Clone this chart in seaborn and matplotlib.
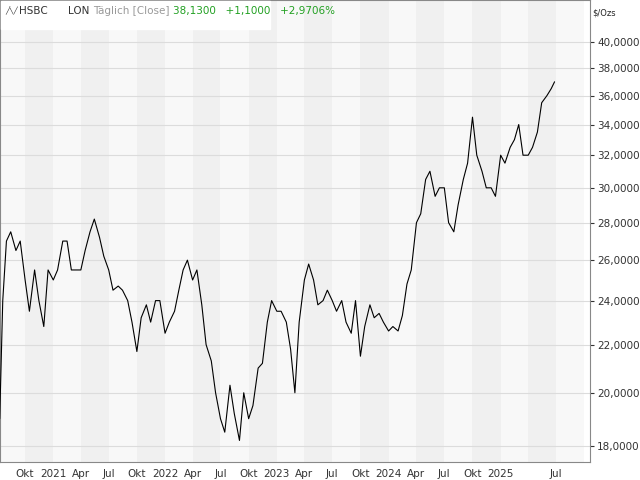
import numpy as np
import pandas as pd
import matplotlib
matplotlib.use('Agg')
import matplotlib.pyplot as plt
import matplotlib.ticker as mticker
import seaborn as sns

# semi-monthly closes (1st / 15th)
close = [27, 27.5, 26.5, 27, 25, 23.5, 25.5, 24, 22.8, 25.5,
         25, 25.5, 27, 27, 25.5, 25.5, 25.5, 26.5, 27.5, 28.2, 27.2, 26.2,
         25.5, 24.5, 24.7, 24.5, 24, 23, 21.7, 23.2, 23.8, 23, 24, 24,
         22.5, 23, 23.5, 24.5, 25.5, 26, 25, 25.5, 23.8, 22, 21.3, 20,
         19, 18.5, 20.3, 19.2, 18.2, 20, 19, 19.5, 21, 21.2, 23, 24,
         23.5, 23.5, 23, 21.8, 20, 23, 25, 25.8, 25, 23.8, 24, 24.5,
         24, 23.5, 24, 23, 22.5, 24, 21.5, 22.8, 23.8, 23.2, 23.4, 23,
         22.6, 22.8, 22.6, 23.3, 24.8, 25.5, 28, 28.5, 30.5, 31, 29.5, 30,
         30, 28, 27.5, 29, 30.5, 31.5, 34.5, 32, 31, 30, 30, 29.5,
         32, 31.5, 32.5, 33, 34, 32, 32, 32.5, 33.5, 35.5, 36, 36.5]
dates = list(pd.date_range('2020-08-01', periods=len(close), freq='SMS'))
dates = [pd.Timestamp('2020-07-10'), pd.Timestamp('2020-07-20')] + dates + [pd.Timestamp('2025-06-26')]
close = [19, 24] + close + [37]
df = pd.DataFrame({'date': dates, 'close': close})

y_ticks = list(range(18, 41, 2))
quarter_starts = pd.date_range('2020-07-01', '2025-10-01', freq='QS')

def q_label(d):
    if d.month == 1:
        return str(d.year)
    return {4: 'Apr', 7: 'Jul', 10: 'Okt'}[d.month]

sns.set_style('white')
fig = plt.figure(figsize=(6.4, 4.8), dpi=100)
ax = fig.add_axes([0, 0.0375, 0.922, 0.9625])

for i, q in enumerate(quarter_starts[:-1]):
    ax.axvspan(q, quarter_starts[i + 1], color='#f0f0f0' if i % 2 else '#f8f8f8', lw=0, zorder=0)

sns.lineplot(data=df, x='date', y='close', color='black', lw=0.8, ax=ax, zorder=3)

ax.set_yscale('log')
ax.set_ylim(17.44, 43.5)
ax.set_xlim(pd.Timestamp('2020-07-11'), pd.Timestamp('2025-10-20'))
ax.yaxis.tick_right()
ax.set_yticks(y_ticks)
ax.yaxis.set_minor_locator(mticker.NullLocator())
ax.set_yticklabels([f'{v:.4f}'.replace('.', ',') for v in y_ticks], fontsize=7.5)
ax.tick_params(axis='y', length=3, pad=2, colors='#333333')
ax.grid(axis='y', color='#dcdcdc', lw=0.8, zorder=1)
ticks = [q for q in quarter_starts if pd.Timestamp('2020-09-01') < q < pd.Timestamp('2025-09-01')]
ax.set_xticks(ticks)
ax.set_xticklabels([q_label(q) if q != pd.Timestamp('2025-04-01') else '' for q in ticks], fontsize=7.5)
ax.tick_params(axis='x', length=3, pad=2, colors='#333333')
ax.set_xlabel('')
ax.set_ylabel('')
for s in ax.spines.values():
    s.set_color('#888888')
    s.set_linewidth(0.8)

fig.text(0.925, 0.972, '$/Ozs', fontsize=6, va='center')
# header strip
fig.patches.append(plt.Rectangle((0.002, 0.94), 0.42, 0.058, color='white', transform=fig.transFigure, zorder=5))
fig.text(0.008, 0.977, '\u2571\u2572\u2571', fontsize=5, va='center', color='#333333', zorder=6)
fig.text(0.03, 0.977, 'HSBC', color='#333333', fontsize=7.5, va='center', zorder=6)
fig.text(0.107, 0.977, 'LON', color='#333333', fontsize=7.5, va='center', zorder=6)
fig.text(0.146, 0.977, 'Täglich [Close]', color='#999999', fontsize=7.5, va='center', zorder=6)
fig.text(0.27, 0.977, '38,1300   +1,1000   +2,9706%', color='#22a022', fontsize=7.5, va='center', zorder=6)

fig.savefig('out.png', dpi=100)
